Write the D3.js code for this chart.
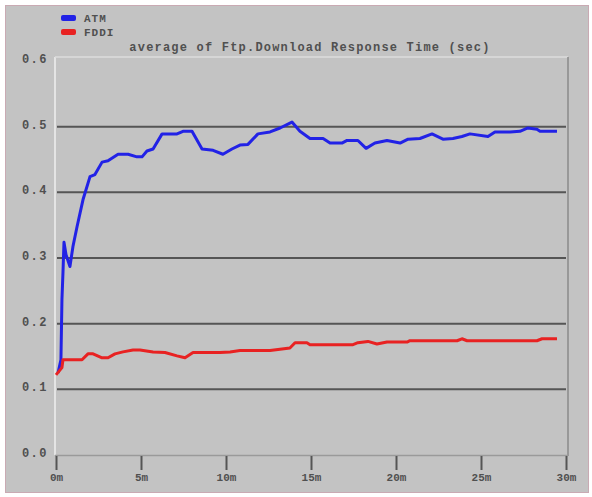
<!DOCTYPE html>
<html lang="en">
<head>
<meta charset="utf-8">
<title>Ftp Download Response Time</title>
<script src="https://cdn.jsdelivr.net/npm/d3@7"></script>
<style>
  body { margin: 0; background: #fff; }
  .lbl { font-family: "Liberation Mono", "DejaVu Sans Mono", monospace; font-weight: bold; fill: #505050; }
</style>
</head>
<body>
<div id="chart"></div>
<script>
// time in minutes, value in seconds
var atmTime  = [0.12, 0.29, 0.35, 0.41, 0.47, 0.59, 0.82, 1.0, 1.24, 1.59, 2.0, 2.29, 2.71, 3.06, 3.65, 4.24, 4.76, 5.06, 5.35, 5.71,
                6.24, 7.12, 7.47, 8.0, 8.59, 9.24, 9.82, 10.35, 10.82, 11.29, 11.88, 12.59, 13.18, 13.88, 14.35, 14.94, 15.71, 16.12,
                16.82, 17.12, 17.76, 18.24, 18.76, 19.47, 20.24, 20.71, 21.41, 22.12, 22.76, 23.35, 23.88, 24.35, 25.41, 25.82,
                26.71, 27.29, 27.76, 28.29, 28.47, 29.47];
var atmValue = [0.125, 0.145, 0.237, 0.278, 0.324, 0.305, 0.287, 0.318, 0.348, 0.389, 0.424, 0.427, 0.446, 0.448, 0.458, 0.458, 0.454, 0.454, 0.463, 0.466,
                0.489, 0.489, 0.493, 0.493, 0.466, 0.464, 0.458, 0.466, 0.472, 0.473, 0.489, 0.492, 0.498, 0.507, 0.493, 0.482, 0.482, 0.475,
                0.475, 0.479, 0.479, 0.467, 0.475, 0.479, 0.475, 0.481, 0.482, 0.489, 0.481, 0.482, 0.485, 0.489, 0.485, 0.492,
                0.492, 0.493, 0.498, 0.496, 0.493, 0.493];

var fddiTime  = [0, 0.35, 0.41, 1.53, 1.88, 2.18, 2.71, 3.06, 3.47, 3.94, 4.53, 4.94, 5.71, 6.41, 7.12, 7.59, 8.06, 9.65, 10.24, 10.82,
                 12.59, 13.76, 14.06, 14.76, 14.94, 17.47, 17.76, 18.35, 18.88, 19.47, 20.65, 20.82, 23.59, 23.88, 24.18, 28.29, 28.59, 29.47];
var fddiValue = [0.122, 0.133, 0.145, 0.145, 0.154, 0.154, 0.148, 0.148, 0.154, 0.157, 0.160, 0.160, 0.157, 0.156, 0.151, 0.148, 0.156, 0.156, 0.157, 0.159,
                 0.159, 0.163, 0.171, 0.171, 0.168, 0.168, 0.171, 0.173, 0.169, 0.172, 0.172, 0.174, 0.174, 0.177, 0.174, 0.174, 0.177, 0.177];

var yTicks = [0, 0.1, 0.2, 0.3, 0.4, 0.5, 0.6];
var xTicks = [0, 5, 10, 15, 20, 25, 30];
var seriesNames = ["ATM", "FDDI"];
var seriesColors = ["#2222e6", "#e82222"];

var width = 592, height = 497;

var svg = d3.select("#chart").append("svg")
    .attr("width", width)
    .attr("height", height);

// outer panel
svg.append("rect")
    .attr("x", 5.5).attr("y", 5.5)
    .attr("width", 583).attr("height", 487)
    .attr("fill", "#c3c3c3")
    .attr("stroke", "#c9aab3");

var x = d3.scaleLinear().domain([0, 30]).range([56, 566]);
var y = d3.scaleLinear().domain([0, 0.6]).range([455, 61]);

// plot frame
svg.append("line").attr("x1", 55).attr("x2", 55).attr("y1", 57).attr("y2", 455)
    .attr("stroke", "#e4e4e4").attr("stroke-width", 2);
svg.append("line").attr("x1", 55).attr("x2", 568).attr("y1", 57).attr("y2", 57)
    .attr("stroke", "#dcdcdc").attr("stroke-width", 1.5);
svg.append("line").attr("x1", 568).attr("x2", 568).attr("y1", 57).attr("y2", 456)
    .attr("stroke", "#8a8a8a").attr("stroke-width", 1.5);
svg.append("line").attr("x1", 55).attr("x2", 568).attr("y1", 455.5).attr("y2", 455.5)
    .attr("stroke", "#9a9a9a").attr("stroke-width", 1.5);

// grid lines
svg.append("g").selectAll("line")
    .data(yTicks.filter(function(d) { return d > 0 && d < 0.6; }))
  .enter().append("line")
    .attr("x1", 57).attr("x2", 566)
    .attr("y1", function(d) { return y(d); })
    .attr("y2", function(d) { return y(d); })
    .attr("stroke", "#555")
    .attr("stroke-width", 2);

// y labels
svg.append("g").selectAll("text")
    .data(yTicks)
  .enter().append("text")
    .attr("class", "lbl")
    .attr("x", 48)
    .attr("y", function(d) { return y(d) + 2; })
    .attr("text-anchor", "end")
    .attr("font-size", 12)
    .attr("letter-spacing", 1.5)
    .text(function(d) { return d.toFixed(1); });

// x ticks
var xAxis = svg.append("g")
    .attr("transform", "translate(0,456)")
    .call(d3.axisBottom(x).tickValues(xTicks).tickSize(14).tickFormat(function(d) { return d + "m"; }));
xAxis.select(".domain").remove();
xAxis.selectAll(".tick line").attr("stroke", "#555").attr("stroke-width", 2);
xAxis.selectAll(".tick text")
    .attr("class", "lbl")
    .attr("font-size", 11)
    .attr("dy", "0.9em")
    .attr("y", 15);

// title
svg.append("text")
    .attr("class", "lbl")
    .attr("x", 310).attr("y", 51)
    .attr("text-anchor", "middle")
    .attr("font-size", 12)
    .attr("letter-spacing", 1.2)
    .text("average of Ftp.Download Response Time (sec)");

// legend
var legend = svg.append("g").selectAll("g")
    .data(seriesNames)
  .enter().append("g")
    .attr("transform", function(d, i) { return "translate(61," + (15 + i * 14) + ")"; });
legend.append("rect")
    .attr("width", 15).attr("height", 6).attr("rx", 2)
    .attr("fill", function(d, i) { return seriesColors[i]; });
legend.append("text")
    .attr("class", "lbl")
    .attr("x", 23).attr("y", 7)
    .attr("font-size", 11)
    .attr("letter-spacing", 1)
    .text(function(d) { return d; });

// series
var line = d3.line()
    .x(function(d) { return x(d[0]); })
    .y(function(d) { return y(d[1]); });

var series = [d3.zip(atmTime, atmValue), d3.zip(fddiTime, fddiValue)];

svg.append("g").selectAll("path")
    .data(series)
  .enter().append("path")
    .attr("d", line)
    .attr("fill", "none")
    .attr("stroke", function(d, i) { return seriesColors[i]; })
    .attr("stroke-width", 3)
    .attr("stroke-linejoin", "round");
</script>
</body>
</html>
